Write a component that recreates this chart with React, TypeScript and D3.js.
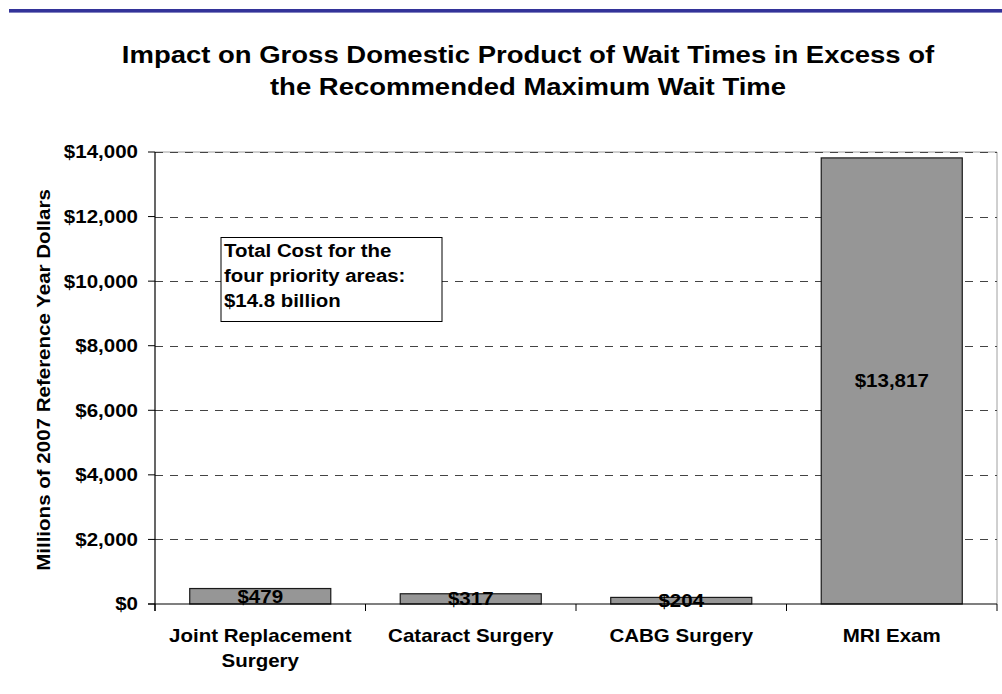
import React from "react";
import * as d3 from "d3";

const categories: string[][] = [
  ["Joint Replacement", "Surgery"],
  ["Cataract Surgery"],
  ["CABG Surgery"],
  ["MRI Exam"],
];
const values: number[] = [479, 317, 204, 13817];
const yTicks: number[] = [0, 2000, 4000, 6000, 8000, 10000, 12000, 14000];
const titleLines: string[] = [
  "Impact on Gross Domestic Product of Wait Times in Excess of",
  "the Recommended Maximum Wait Time",
];
const yAxisTitle = "Millions of 2007 Reference Year Dollars";
const noteLines: string[] = ["Total Cost for the", "four priority areas:", "$14.8 billion"];

const FONT = "'Liberation Sans', Arial, Helvetica, sans-serif";
const SX = 1.16;

function T(props: {
  x: number;
  y: number;
  size: number;
  anchor?: string;
  rotate?: number;
  sx?: number;
  dy?: string;
  children: React.ReactNode;
}) {
  const { x, y, size, anchor = "middle", rotate = 0, sx = SX, dy } = props;
  return (
    <text
      transform={`translate(${x},${y}) rotate(${rotate}) scale(${sx},1)`}
      textAnchor={anchor}
      fontFamily={FONT}
      fontWeight="bold"
      fontSize={size}
      fill="#000"
      dy={dy}
    >
      {props.children}
    </text>
  );
}

export default function App() {
  const W = 1002;
  const H = 694;
  const left = 155;
  const right = 997;
  const top = 152;
  const bottom = 604;

  const keys = categories.map((c) => c.join(" "));
  const x = d3
    .scaleBand<string>()
    .domain(keys)
    .range([left, right])
    .paddingInner(0.33)
    .paddingOuter(0.165);
  const y = d3.scaleLinear().domain([0, 14000]).range([bottom, top]);
  const fmt = (v: number) => "$" + d3.format(",")(v);

  const step = x.step();
  const boundaries = keys.map((k) => (x(k) as number) - (step - x.bandwidth()) / 2);
  boundaries.push(right);

  return (
    <svg
      width={W}
      height={H}
      style={{ position: "absolute", left: 0, top: 0, background: "#fff" }}
    >
      <rect x={0} y={0} width={W} height={H} fill="#fff" />
      <rect x={9} y={9} width={W - 9} height={3.6} fill="#333399" />

      {titleLines.map((t, i) => (
        <T key={i} x={528} y={63 + i * 32} size={23.3} sx={1.18}>
          {t}
        </T>
      ))}

      {/* plot border top/right */}
      <line x1={left} x2={right} y1={top} y2={top} stroke="#a0a0a0" strokeWidth={1} />
      <line x1={right} x2={right} y1={top} y2={bottom} stroke="#a0a0a0" strokeWidth={1} />

      {/* gridlines */}
      {yTicks
        .filter((t) => t > 0)
        .map((t) => (
          <line
            key={t}
            x1={left}
            x2={right}
            y1={Math.round(y(t)) + 0.5}
            y2={Math.round(y(t)) + 0.5}
            stroke="#444"
            strokeWidth={1}
            strokeDasharray="8,7"
          />
        ))}

      {/* bars */}
      {values.map((v, i) => (
        <rect
          key={i}
          x={x(keys[i]) as number}
          y={y(v)}
          width={x.bandwidth()}
          height={bottom - y(v)}
          fill="#969696"
          stroke="#1a1a1a"
          strokeWidth={1.2}
        />
      ))}

      {/* note box */}
      <rect x={221} y={237.5} width={221} height={84} fill="#fff" stroke="#000" strokeWidth={1} />
      {noteLines.map((t, i) => (
        <T key={i} x={224} y={256.7 + i * 25} size={17.6} anchor="start">
          {t}
        </T>
      ))}

      {/* axes */}
      <line x1={left} x2={left} y1={top} y2={bottom + 7} stroke="#000" strokeWidth={1.2} />
      <line x1={left - 7} x2={right} y1={bottom} y2={bottom} stroke="#000" strokeWidth={1.2} />
      {yTicks.map((t) => (
        <g key={t}>
          <line x1={left - 7} x2={left} y1={y(t)} y2={y(t)} stroke="#000" strokeWidth={1} />
          <T x={138} y={y(t)} size={17.7} anchor="end" dy="0.36em">
            {fmt(t)}
          </T>
        </g>
      ))}
      {boundaries.map((b, i) => (
        <line key={i} x1={b} x2={b} y1={bottom} y2={bottom + 7} stroke="#000" strokeWidth={1} />
      ))}

      {/* bar value labels */}
      {values.map((v, i) => (
        <T
          key={i}
          x={(x(keys[i]) as number) + x.bandwidth() / 2}
          y={(y(v) + bottom) / 2}
          size={17.7}
          dy="0.36em"
        >
          {fmt(v)}
        </T>
      ))}

      {/* category labels */}
      {categories.map((lines, i) =>
        lines.map((l, j) => (
          <T
            key={i + "-" + j}
            x={(x(keys[i]) as number) + x.bandwidth() / 2}
            y={641.7 + j * 25}
            size={17.7}
          >
            {l}
          </T>
        ))
      )}

      {/* y axis title */}
      <T x={50} y={(top + bottom) / 2 + 2} size={17.7} rotate={-90}>
        {yAxisTitle}
      </T>
    </svg>
  );
}
